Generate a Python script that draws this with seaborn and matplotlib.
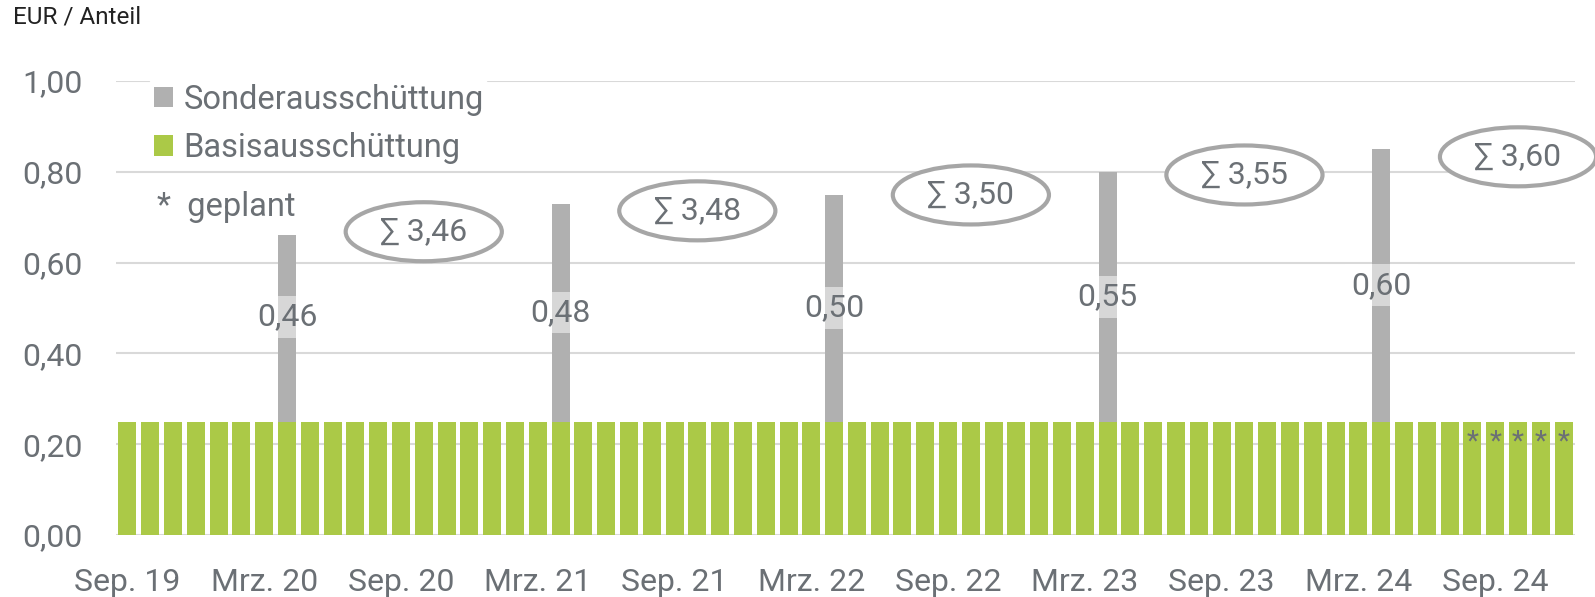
import matplotlib
matplotlib.use("Agg")
import matplotlib.pyplot as plt
import seaborn as sns
import pandas as pd
from matplotlib.patches import Ellipse, Patch

# ---------------- data ----------------
month_names = ["Jan.", "Feb.", "Mrz.", "Apr.", "Mai", "Jun.",
               "Jul.", "Aug.", "Sep.", "Okt.", "Nov.", "Dez."]
months = [f"{month_names[(8 + i) % 12]} {19 + (8 + i) // 12}" for i in range(64)]  # Sep. 19 .. Dez. 24

basis = [0.25] * 64                                   # monthly base distribution (EUR/Anteil)
sonder_months = ["Apr. 20", "Apr. 21", "Apr. 22", "Apr. 23", "Apr. 24"]
sonder_heights = [0.41, 0.48, 0.50, 0.55, 0.60]       # grey segment as drawn
sonder_labels = [0.46, 0.48, 0.50, 0.55, 0.60]        # printed labels
annual_sums = [3.46, 3.48, 3.50, 3.55, 3.60]
planned_months = ["Aug. 24", "Sep. 24", "Okt. 24", "Nov. 24", "Dez. 24"]
xtick_labels = ["Sep. 19", "Mrz. 20", "Sep. 20", "Mrz. 21", "Sep. 21", "Mrz. 22",
                "Sep. 22", "Mrz. 23", "Sep. 23", "Mrz. 24", "Sep. 24"]
ytick_values = [0.0, 0.2, 0.4, 0.6, 0.8, 1.0]

# ---------------- style ----------------
sns.set_style("white")
plt.rcParams["font.family"] = ["Roboto", "DejaVu Sans"]

GREEN = "#abc947"
GREY = "#b0b0b0"
TXT = "#6b7075"
GRID = "#d9d9d9"

df = pd.DataFrame({"monat": months, "basis": basis})
df["sonder"] = df["monat"].map(dict(zip(sonder_months, sonder_heights))).fillna(0.0)
df["gesamt"] = df["basis"] + df["sonder"]

fig = plt.figure(figsize=(15.95, 5.97), dpi=100)
AX_L, AX_B, AX_W, AX_H = 116, 62, 1459, 454
ax = fig.add_axes([AX_L / 1595, AX_B / 597, AX_W / 1595, AX_H / 597])

sns.barplot(data=df, x="monat", y="gesamt", color=GREY, saturation=1,
            width=0.79, ax=ax, linewidth=0)
sns.barplot(data=df, x="monat", y="basis", color=GREEN, saturation=1,
            width=0.79, ax=ax, linewidth=0)

ax.set_xlim(-0.5, len(months) - 0.5)
ax.set_ylim(0, 1.0)
ax.set_xlabel("")
ax.set_ylabel("")
ax.set_yticks(ytick_values)
ax.set_yticklabels([f"{v:.2f}".replace(".", ",") for v in ytick_values])
ax.set_xticks([months.index(m) for m in xtick_labels])
ax.set_xticklabels(xtick_labels)
ax.tick_params(axis="both", length=0, labelsize=23, labelcolor=TXT)
ax.tick_params(axis="y", pad=24)
ax.tick_params(axis="x", pad=24)
ax.yaxis.grid(True, color=GRID, lw=1.5)
ax.set_axisbelow(True)
for s in ax.spines.values():
    s.set_visible(False)

# special distribution labels
for m, lab in zip(sonder_months, sonder_labels):
    i = months.index(m)
    ax.text(i, basis[i] + lab / 2, f"{lab:.2f}".replace(".", ","), ha="center", va="center",
            fontsize=23, color=TXT, zorder=5,
            bbox=dict(boxstyle="square,pad=0.2", facecolor="white", alpha=0.5, edgecolor="none"))

# annual sum ellipses
sum_label_y = [0.668, 0.714, 0.749, 0.793, 0.833]
for m, s, yy in zip(sonder_months, annual_sums, sum_label_y):
    xx = months.index(m) + 6
    ax.add_patch(Ellipse((xx, yy), width=6.85, height=0.13, facecolor="white",
                         edgecolor="#a6a6a6", lw=3, zorder=4, clip_on=False))
    ax.text(xx, yy, f"\u2211 {s:.2f}".replace(".", ","), ha="center", va="center",
            fontsize=23, color=TXT, zorder=5)

# planned markers
for m in planned_months:
    i = months.index(m)
    ax.text(i, 0.205, "*", ha="center", va="center", fontsize=20, color=TXT, zorder=5)

# legend
handles = [Patch(facecolor=GREY, edgecolor="none", label="Sonderausschüttung"),
           Patch(facecolor=GREEN, edgecolor="none", label="Basisausschüttung")]
leg = ax.legend(handles=handles, loc="upper left", bbox_to_anchor=(33 / AX_W, 1.005),
                frameon=True, facecolor="white", edgecolor="none", framealpha=1,
                fontsize=23.5, labelcolor=TXT, handlelength=0.6, handleheight=0.6,
                handletextpad=0.3, labelspacing=0.5, borderpad=0.15, borderaxespad=0)
leg.set_zorder(6)
ax.text((157 - AX_L) / AX_W, (535 - 207) / AX_H, "*  geplant", transform=ax.transAxes,
        ha="left", va="center", fontsize=23.5, color=TXT)

fig.text(13 / 1595, 1 - 17 / 597, "EUR / Anteil", ha="left", va="center",
         fontsize=17.5, color="#222222")

fig.savefig("out.png", dpi=100)
